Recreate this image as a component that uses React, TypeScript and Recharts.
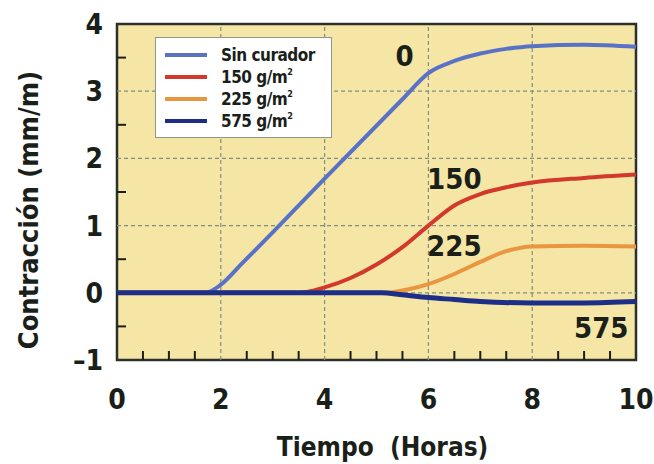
import { LineChart, Line, XAxis, YAxis, ReferenceArea, ReferenceLine, ReferenceDot } from "recharts";

document.body.style.margin = "0";

const FONT = "'DejaVu Sans Condensed', 'Liberation Sans Narrow', 'Liberation Sans', Arial, sans-serif";
const INK = "#1a1f1a";

// x ticks every half hour, labels only on the even hours
const xTicks = [0, 0.5, 1, 1.5, 2, 2.5, 3, 3.5, 4, 4.5, 5, 5.5, 6, 6.5, 7, 7.5, 8, 8.5, 9, 9.5, 10];
const xMajor = [0, 2, 4, 6, 8, 10];
const yTicks = [-1, -0.5, 0, 0.5, 1, 1.5, 2, 2.5, 3, 3.5, 4];
const yMajor = [-1, 0, 1, 2, 3, 4];

const sinCurador = [
  { x: 0, y: 0 }, { x: 1.7, y: 0 }, { x: 2.0, y: 0.12 }, { x: 2.4, y: 0.43 }, { x: 3, y: 0.9 }, { x: 4, y: 1.7 },
  { x: 5.5, y: 2.88 }, { x: 6, y: 3.27 }, { x: 6.5, y: 3.45 },
  { x: 7, y: 3.56 }, { x: 7.5, y: 3.63 }, { x: 8, y: 3.67 }, { x: 9, y: 3.69 }, { x: 10, y: 3.66 },
];
const g150 = [
  { x: 0, y: 0 }, { x: 3.5, y: 0 }, { x: 4, y: 0.08 }, { x: 4.5, y: 0.22 }, { x: 5, y: 0.42 },
  { x: 5.5, y: 0.68 }, { x: 6, y: 1.0 }, { x: 6.5, y: 1.3 }, { x: 7, y: 1.47 }, { x: 7.5, y: 1.57 },
  { x: 8, y: 1.64 }, { x: 9, y: 1.71 }, { x: 10, y: 1.76 },
];
const g225 = [
  { x: 0, y: 0 }, { x: 5.2, y: 0 }, { x: 5.6, y: 0.05 }, { x: 6, y: 0.13 }, { x: 6.5, y: 0.28 },
  { x: 7, y: 0.46 }, { x: 7.5, y: 0.62 }, { x: 8, y: 0.69 }, { x: 9, y: 0.7 }, { x: 10, y: 0.69 },
];
const g575 = [
  { x: 0, y: 0 }, { x: 5.1, y: 0 }, { x: 5.5, y: -0.03 }, { x: 6, y: -0.07 }, { x: 6.5, y: -0.1 },
  { x: 7, y: -0.13 }, { x: 8, y: -0.15 }, { x: 9, y: -0.15 }, { x: 10, y: -0.13 },
];

const series = [
  { name: "Sin curador", sup: false, data: sinCurador, color: "#5a72c6", width: 4 },
  { name: "150 g/m", sup: true, data: g150, color: "#d2392c", width: 4 },
  { name: "225 g/m", sup: true, data: g225, color: "#ea9540", width: 4 },
  { name: "575 g/m", sup: true, data: g575, color: "#1d2e88", width: 5 },
];

const annotations = [
  { text: "0", x: 5.54, y: 3.52 },
  { text: "150", x: 6.5, y: 1.69 },
  { text: "225", x: 6.5, y: 0.69 },
  { text: "575", x: 9.33, y: -0.52 },
];

const XTick = ({ x, y, payload }: any) => {
  const v = payload.value;
  if (xMajor.includes(v)) {
    return (
      <text x={x} y={y + 49} textAnchor="middle" fontFamily={FONT} fontWeight="bold" fontSize={28} fill={INK}>
        {v}
      </text>
    );
  }
  return <line x1={x} x2={x} y1={y} y2={y - 9} stroke={INK} strokeWidth={2} />;
};

const YTick = ({ x, y, payload }: any) => {
  const v = payload.value;
  if (yMajor.includes(v)) {
    return (
      <text x={x - 14} y={y + 10} textAnchor="end" fontFamily={FONT} fontWeight="bold" fontSize={28} fill={INK}>
        {v < 0 ? "\u2013" + Math.abs(v) : v}
      </text>
    );
  }
  return <line x1={x} x2={x + 9} y1={y} y2={y} stroke={INK} strokeWidth={2} />;
};

const LegendBox = () => (
  <div
    style={{
      position: "absolute",
      left: 155,
      top: 37,
      width: 177,
      height: 101,
      background: "#fff",
      border: "1.5px solid #8d978d",
      boxSizing: "border-box",
      paddingTop: 6,
    }}
  >
    {series.map((s) => (
      <div key={s.name} style={{ display: "flex", alignItems: "center", height: 22, whiteSpace: "nowrap" }}>
        <div style={{ width: 42, height: 4, background: s.color, marginLeft: 9, marginRight: 14, flex: "none" }} />
        <span style={{ fontFamily: FONT, fontWeight: "bold", fontSize: 17, color: INK, lineHeight: "22px", letterSpacing: -0.5 }}>
          {s.name}
          {s.sup && <sup style={{ fontSize: 9, verticalAlign: "8px", lineHeight: 0 }}>2</sup>}
        </span>
      </div>
    ))}
  </div>
);

export default function App() {
  return (
    <div style={{ position: "relative", width: 654, height: 464, background: "#fff" }}>
      <LineChart width={654} height={464} margin={{ top: 24, right: 18, left: 0, bottom: 0 }}>
        <XAxis
          type="number"
          dataKey="x"
          domain={[0, 10]}
          ticks={xTicks}
          interval={0}
          height={104}
          tickSize={0}
          tickMargin={0}
          axisLine={false}
          tickLine={false}
          tick={<XTick />}
          label={{
            content: ({ viewBox }: any) => (
              <text x={viewBox.x + viewBox.width / 2 + 6} y={viewBox.y + 96} textAnchor="middle" fontFamily={FONT} fontWeight="bold" fontSize={26} fill={INK}>
                {"Tiempo\u00a0 (Horas)"}
              </text>
            ),
          }}
        />
        <YAxis
          type="number"
          domain={[-1, 4]}
          ticks={yTicks}
          interval={0}
          width={117}
          tickSize={0}
          tickMargin={0}
          axisLine={false}
          tickLine={false}
          tick={<YTick />}
          label={{
            content: () => (
              <text x={38} y={210} transform="rotate(-90 38 210)" textAnchor="middle" fontFamily={FONT} fontWeight="bold" fontSize={27} fill={INK}>
                Contracción (mm/m)
              </text>
            ),
          }}
        />
        <ReferenceArea x1={0} x2={10} y1={-1} y2={4} fill="#f5e6a6" fillOpacity={1} stroke="#2a302a" strokeWidth={2.5} />
        {xMajor.slice(1, -1).map((v) => (
          <ReferenceLine key={"vx" + v} x={v} stroke="#7f8f80" strokeDasharray="4 3" strokeWidth={1.2} />
        ))}
        {yMajor.slice(1, -1).map((v) => (
          <ReferenceLine key={"hy" + v} y={v} stroke="#7f8f80" strokeDasharray="4 3" strokeWidth={1.2} />
        ))}
        {series.map((s) => (
          <Line
            key={s.name}
            data={s.data}
            dataKey="y"
            type="monotone"
            stroke={s.color}
            strokeWidth={s.width}
            dot={false}
            isAnimationActive={false}
          />
        ))}
        {annotations.map((a) => (
          <ReferenceDot
            key={a.text}
            x={a.x}
            y={a.y}
            r={0}
            shape={(p: any) => (
              <text x={p.cx} y={p.cy + 10} textAnchor="middle" fontFamily={FONT} fontWeight="bold" fontSize={29} fill={INK}>
                {a.text}
              </text>
            )}
          />
        ))}
      </LineChart>
      <LegendBox />
    </div>
  );
}
